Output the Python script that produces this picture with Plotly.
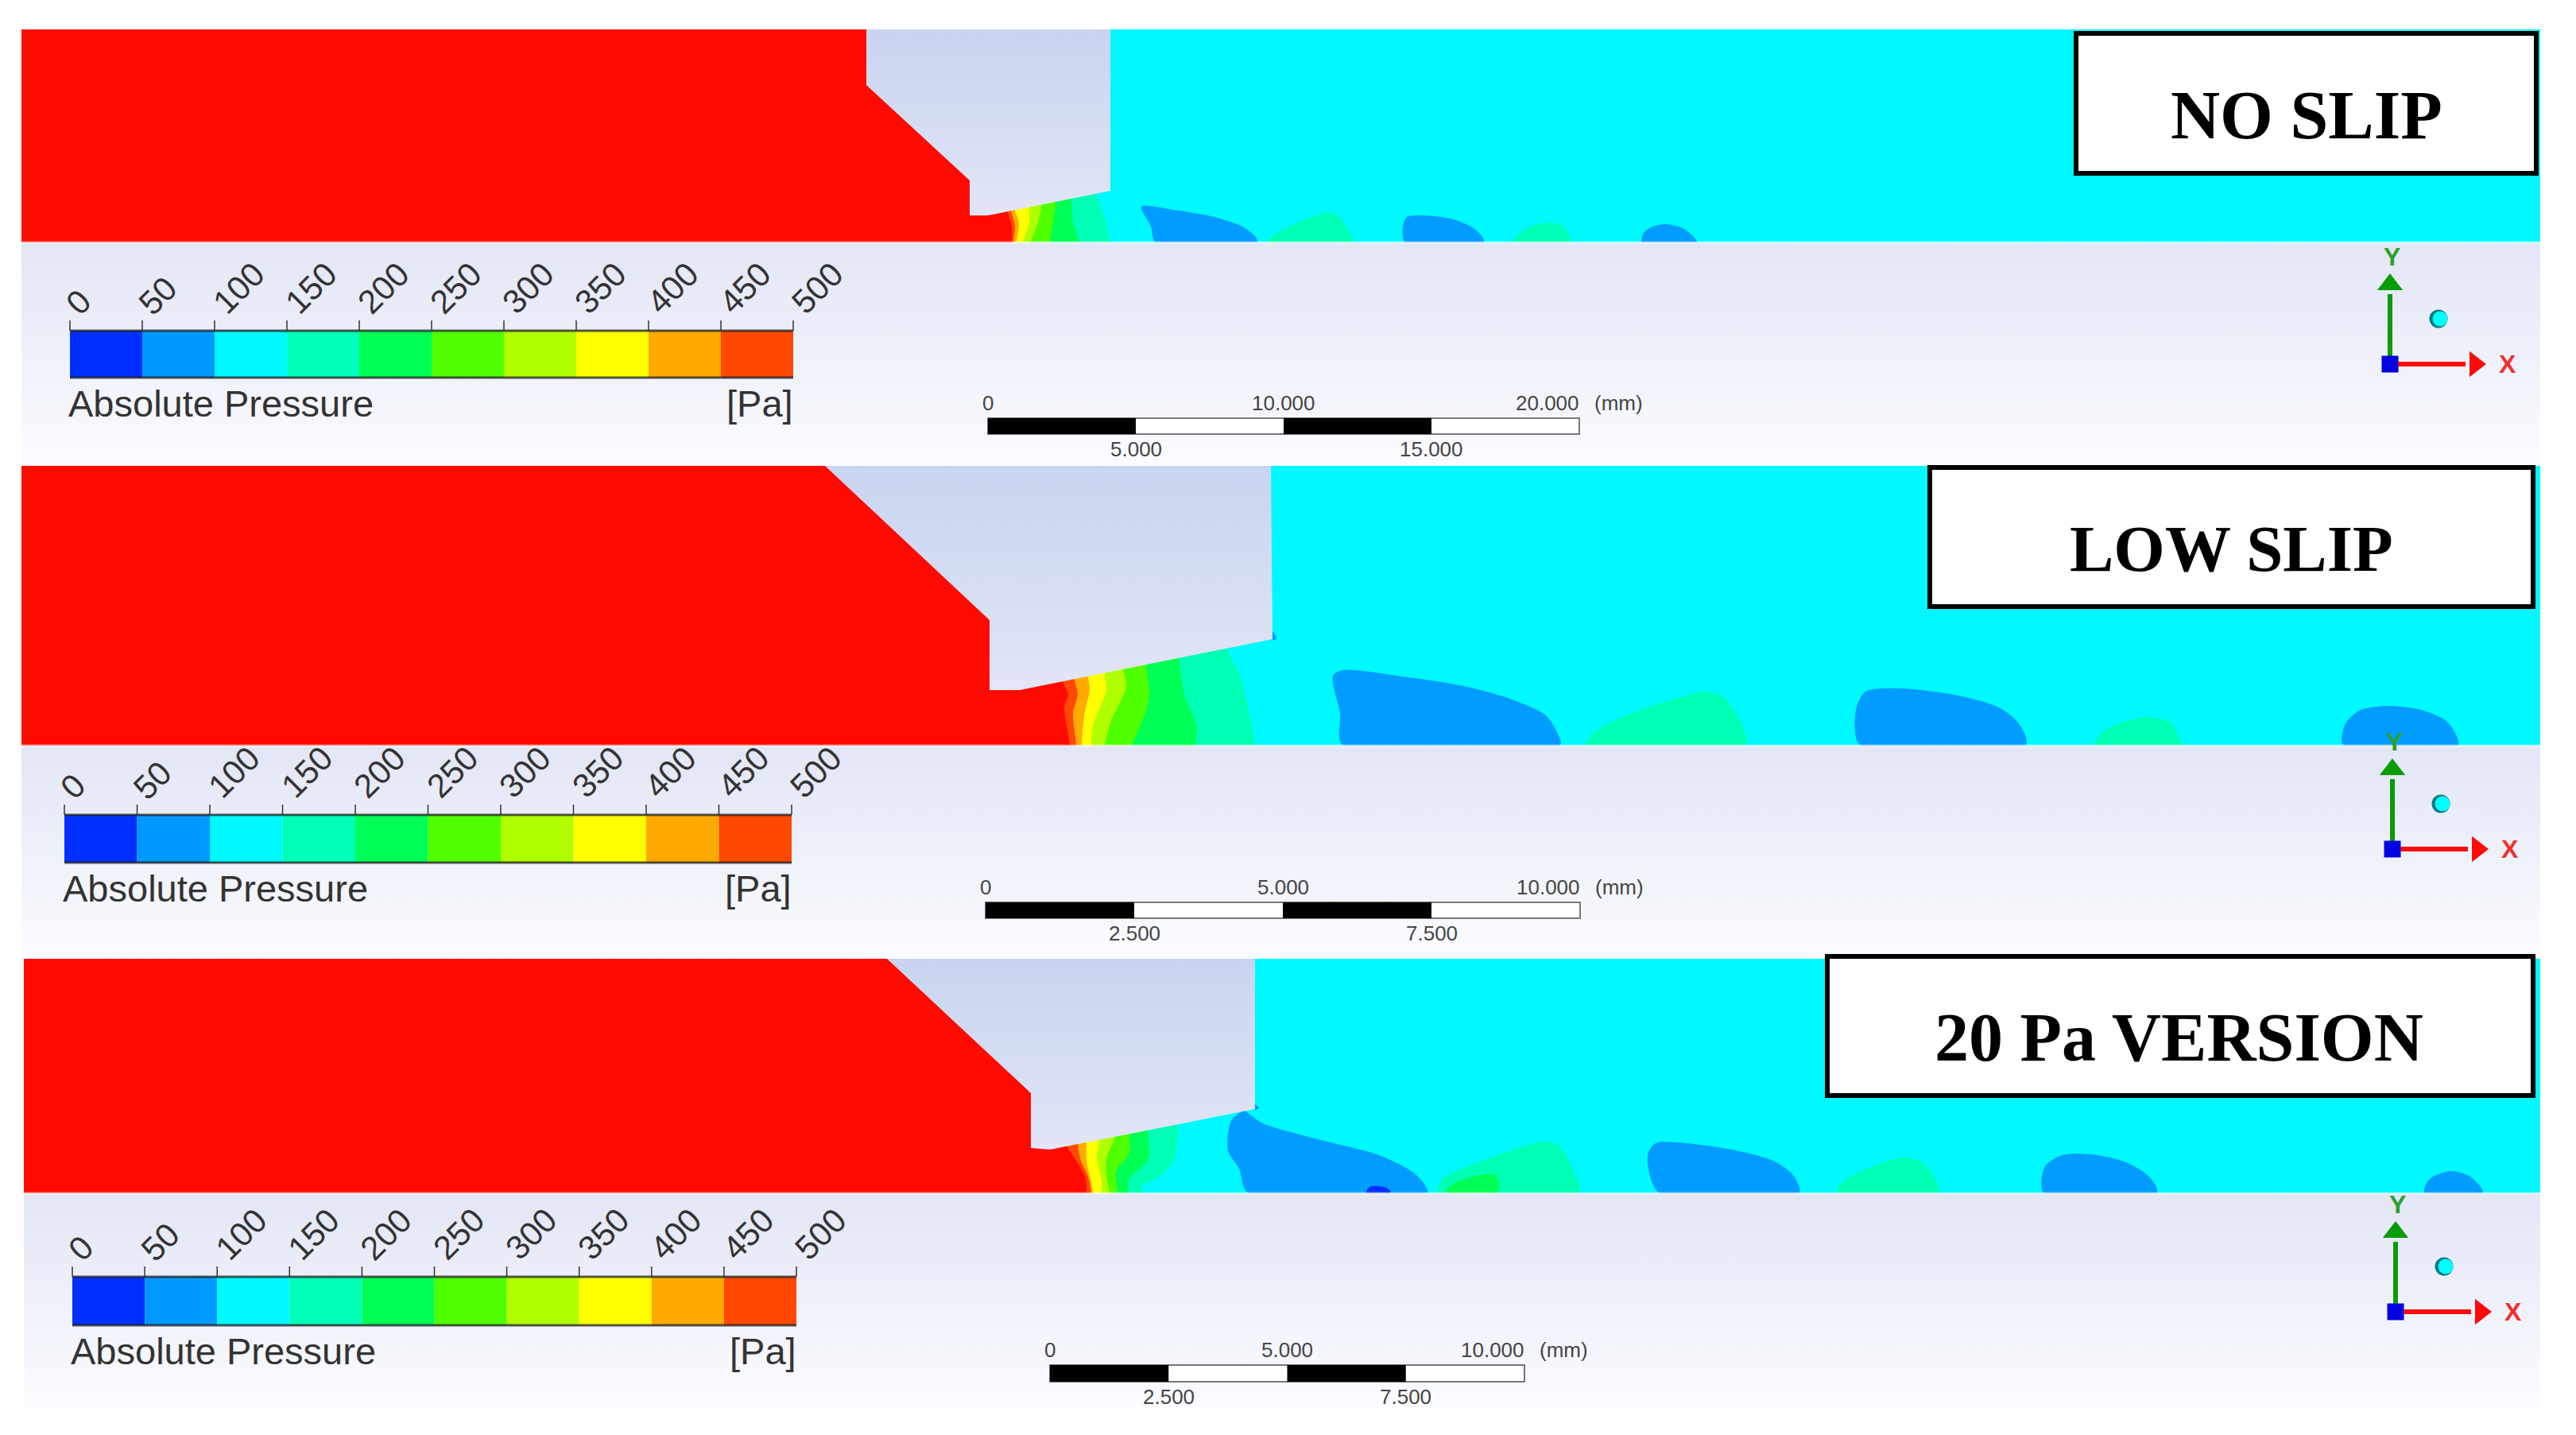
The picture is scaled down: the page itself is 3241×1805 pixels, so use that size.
# -*- coding: utf-8 -*-
"""Absolute pressure contours for the three slip cases"""
import plotly.graph_objects as go

# ── colour levels ─────────────────────────────────
LEVELS = [0, 50, 100, 150, 200, 250, 300, 350, 400, 450, 500]
LEVEL_COLORS = ['#0030ff', '#0099ff', '#00f8ff', '#00ffb8', '#00ff55',
                '#50ff00', '#b0ff00', '#ffff00', '#ffaa00', '#ff4800']
RED = '#ff0a00'
CYAN = '#00f8ff'
BLUE = '#009cff'
DEEP = '#0030ff'
TEAL = '#00ffb4'
GREEN = '#00ff55'

# ── NO SLIP ───────────────────────────────────────
P1_WEDGE = [(1090, 37), (1090, 107), (1220, 227), (1220, 271), (1243, 271), (1397, 240), (1397, 37)]
P1_B100 = [(1379, 245), (1390, 273), (1396, 305)]
P1_B150 = [(1348, 251), (1350, 280), (1358, 305)]
P1_B200 = [(1328, 254), (1325, 280), (1321, 305)]
P1_B250 = [(1310, 257), (1306, 280), (1297, 305)]
P1_B300 = [(1295, 262), (1295, 280), (1287, 305)]
P1_B350 = [(1277, 264), (1282, 280), (1279, 305)]
P1_B400 = [(1272, 264), (1277, 285), (1275, 305)]
P1_B450 = [(1268, 265), (1273, 285), (1273, 305)]
P1_BLUE_A = [(1436, 260), (1477, 264), (1528, 273), (1563, 285), (1579, 297), (1582, 305), (1454, 305), (1448, 285)]
P1_TEAL_B = [(1594, 305), (1604, 295), (1640, 277), (1675, 267), (1688, 277), (1698, 292), (1702, 305)]
P1_BLUE_C = [(1765, 285), (1770, 273), (1793, 271), (1829, 276), (1854, 287), (1865, 298), (1867, 305), (1768, 305)]
P1_TEAL_D = [(1904, 305), (1910, 295), (1931, 283), (1948, 280), (1964, 283), (1974, 295), (1977, 305)]
P1_BLUE_E = [(2066, 305), (2068, 293), (2079, 285), (2096, 282), (2117, 287), (2130, 297), (2135, 305)]

# ── LOW SLIP ──────────────────────────────────────
P2_WEDGE = [(1038, 586), (1245, 780), (1245, 868), (1283, 868), (1601, 804), (1599, 586)]
P2_B100 = [(1545, 818), (1559, 847), (1574, 907), (1579, 937)]
P2_B150 = [(1484, 829), (1490, 873), (1505, 913), (1505, 937)]
P2_B200 = [(1442, 837), (1446, 873), (1440, 900), (1425, 937)]
P2_B250 = [(1413, 843), (1417, 863), (1398, 907), (1390, 937)]
P2_B300 = [(1390, 848), (1392, 867), (1375, 913), (1373, 937)]
P2_B350 = [(1369, 851), (1371, 867), (1364, 900), (1361, 937)]
P2_B400 = [(1352, 855), (1356, 873), (1350, 897), (1354, 937)]
P2_B450 = [(1337, 857), (1344, 873), (1339, 890), (1346, 937)]
P2_BLUE_TIP = [(1600, 793), (1606, 803), (1600, 805)]
P2_BLUE_A = [(1677, 850), (1689, 843), (1765, 851), (1842, 863), (1903, 880), (1945, 900), (1960, 923), (1963, 937), (1689, 937), (1686, 897)]
P2_TEAL_B = [(1995, 937), (2010, 918), (2064, 893), (2133, 872), (2144, 870), (2169, 877), (2187, 903), (2197, 937)]
P2_BLUE_C = [(2340, 937), (2335, 893), (2347, 870), (2391, 866), (2464, 875), (2515, 890), (2540, 910), (2549, 937)]
P2_TEAL_D = [(2635, 937), (2646, 920), (2675, 907), (2704, 902), (2730, 908), (2740, 923), (2744, 937)]
P2_BLUE_E = [(2948, 937), (2951, 910), (2970, 893), (3006, 888), (3046, 893), (3079, 908), (3093, 937)]

# ── 20 Pa VERSION ─────────────────────────────────
P3_WEDGE = [(1116, 1206), (1297, 1375), (1297, 1444), (1321, 1446), (1579, 1395), (1579, 1206)]
P3_B100 = [(1482, 1416), (1478, 1457), (1463, 1477), (1436, 1493), (1438, 1500)]
P3_B150 = [(1444, 1422), (1445, 1457), (1421, 1483), (1419, 1500)]
P3_B200 = [(1421, 1427), (1421, 1450), (1404, 1473), (1406, 1500)]
P3_B250 = [(1402, 1431), (1392, 1457), (1392, 1480), (1396, 1500)]
P3_B300 = [(1383, 1433), (1380, 1457), (1386, 1487), (1386, 1500)]
P3_B350 = [(1367, 1437), (1367, 1460), (1373, 1487), (1375, 1500)]
P3_B400 = [(1356, 1438), (1360, 1460), (1369, 1480), (1373, 1500)]
P3_B450 = [(1343, 1442), (1356, 1463), (1366, 1483), (1367, 1500)]
P3_BLUE_TIP = [(1579, 1389), (1584, 1394), (1579, 1396)]
P3_BLUE_A = [(1565, 1397), (1549, 1410), (1545, 1447), (1559, 1470), (1570, 1500), (1796, 1500), (1781, 1477), (1735, 1453), (1658, 1433), (1589, 1413), (1570, 1400)]
P3_DEEP_A = [(1719, 1500), (1723, 1493), (1735, 1492), (1746, 1495), (1750, 1500)]
P3_TEAL_B = [(1810, 1500), (1815, 1483), (1865, 1460), (1941, 1436), (1960, 1440), (1980, 1473), (1987, 1500)]
P3_GREEN_B = [(1819, 1500), (1830, 1488), (1880, 1477), (1886, 1487), (1884, 1500)]
P3_BLUE_C = [(2087, 1500), (2073, 1453), (2083, 1438), (2110, 1437), (2173, 1445), (2231, 1460), (2256, 1478), (2264, 1500)]
P3_TEAL_D = [(2311, 1500), (2318, 1487), (2369, 1462), (2398, 1456), (2420, 1463), (2435, 1483), (2440, 1500)]
P3_BLUE_E = [(2571, 1500), (2573, 1467), (2595, 1453), (2631, 1452), (2675, 1462), (2704, 1480), (2714, 1500)]
P3_BLUE_F = [(3050, 1500), (3057, 1483), (3083, 1473), (3108, 1480), (3124, 1500)]

# ── scale bar labels ──────────────────────────────
SCALE_TOP_1 = ['0', '10.000', '20.000']
SCALE_BOTTOM_1 = ['5.000', '15.000']
SCALE_TOP_2 = ['0', '5.000', '10.000']
SCALE_BOTTOM_2 = ['2.500', '7.500']

fig = go.Figure()
annotations = []
shapes = []


def poly(points, color, smooth=False):
    xs = [p[0] for p in points]
    ys = [p[1] for p in points]
    line = dict(width=0, shape='spline', smoothing=0.8) if smooth else dict(width=0)
    fig.add_trace(go.Scatter(x=xs + xs[:1], y=ys + ys[:1], mode='lines', fill='toself',
                             fillcolor=color, line=line, hoverinfo='skip'))


def gradient_poly(points, top, bottom):
    xs = [p[0] for p in points]
    ys = [p[1] for p in points]
    fig.add_trace(go.Scatter(x=xs + xs[:1], y=ys + ys[:1], mode='lines', fill='toself',
                             fillgradient=dict(type='vertical', colorscale=[[0, bottom], [1, top]]),
                             line=dict(width=0), hoverinfo='skip'))


def label(x, y, text, size=44, color='#333333', angle=0, family='Liberation Sans', bold=False):
    annotations.append(dict(x=x, y=y, xref='x', yref='y', text=f'<b>{text}</b>' if bold else text,
                            showarrow=False, textangle=angle,
                            font=dict(family=family, size=size, color=color)))


def band(boundary, color, bottom):
    # a curved strip left of the boundary, inner bands and the wedge paint over its far side
    x_far = min(p[0] for p in boundary) - 150
    y_top = boundary[0][1] - 30
    poly([(x_far, y_top), (boundary[0][0], y_top)] + boundary
         + [(boundary[-1][0], bottom + 30), (x_far, bottom + 30)], color, smooth=True)


def draw_field(left, right, top, bottom, end, wedge, bounds, blobs):
    poly([(left, top), (right, top), (right, bottom), (left, bottom)], CYAN)
    for points, color in blobs:
        poly(points, color, smooth=True)
    for boundary, color in zip(bounds, [TEAL, GREEN, LEVEL_COLORS[5], LEVEL_COLORS[6], LEVEL_COLORS[7],
                                        LEVEL_COLORS[8], LEVEL_COLORS[9], RED]):
        band(boundary, color, bottom)
    red_edge = min(p[0] for p in bounds[-1]) - 1
    poly([(left, top), (red_edge, top), (red_edge, bottom), (left, bottom)], RED)
    gradient_poly(wedge, '#c8d4f0', '#e2e6f6')
    gradient_poly([(left, bottom), (right, bottom), (right, end), (left, end)], '#e2e6f5', '#fbfcff')
    shapes.append(dict(type='line', x0=left, x1=right, y0=bottom, y1=bottom, xref='x', yref='y',
                       line=dict(color='rgba(255,255,255,0.55)', width=3)))


def draw_colorbar(x0, x1, y0, y1, text_y):
    scale = (x1 - x0) / (LEVELS[-1] - LEVELS[0])
    for i, color in enumerate(LEVEL_COLORS):
        poly([(x0 + LEVELS[i] * scale, y0), (x0 + LEVELS[i + 1] * scale, y0),
              (x0 + LEVELS[i + 1] * scale, y1), (x0 + LEVELS[i] * scale, y1)], color)
    for y in (y0, y1):
        shapes.append(dict(type='line', x0=x0, x1=x1, y0=y, y1=y, xref='x', yref='y',
                           line=dict(color='rgba(30,30,30,0.75)', width=3)))
    for level in LEVELS:
        x = x0 + level * scale
        shapes.append(dict(type='line', x0=x, x1=x, y0=y0 - 13, y1=y0, xref='x', yref='y',
                           line=dict(color='#333333', width=1.5)))
        text = str(level)
        dx, dy = {1: (10, -36), 2: (19, -44), 3: (30, -54)}[len(text)]
        label(x + dx, y0 + dy, text, size=42, angle=-45)
    label(x0 + 190, text_y, 'Absolute Pressure', size=47)
    label(x1 - 42, text_y, '[Pa]', size=47)


def draw_scalebar(x0, x1, y0, y1, top_labels, bottom_labels):
    step = (x1 - x0) / 4
    shapes.append(dict(type='rect', x0=x0, x1=x1, y0=y0, y1=y1, xref='x', yref='y',
                       fillcolor='white', line=dict(color='#777777', width=2)))
    for i in (0, 2):
        shapes.append(dict(type='rect', x0=x0 + i * step, x1=x0 + (i + 1) * step, y0=y0, y1=y1,
                           xref='x', yref='y', fillcolor='black', line=dict(width=0)))
    for i, text in enumerate(top_labels):
        x = x0 + i * 2 * step
        label(x - 40 if i == 2 else x, y0 - 19, text, size=26, color='#444444')
    label(x1 + 49, y0 - 19, '(mm)', size=26, color='#444444')
    for i, text in enumerate(bottom_labels):
        label(x0 + (i * 2 + 1) * step, y1 + 19, text, size=26, color='#444444')


def draw_triad(x, y):
    fig.add_trace(go.Scatter(x=[x, x], y=[y, y - 88], mode='lines', hoverinfo='skip',
                             line=dict(color='#089c08', width=6)))
    fig.add_trace(go.Scatter(x=[x], y=[y - 100], mode='markers', hoverinfo='skip',
                             marker=dict(symbol='triangle-up', size=28, color='#089c08')))
    fig.add_trace(go.Scatter(x=[x, x + 95], y=[y, y], mode='lines', hoverinfo='skip',
                             line=dict(color='#ff0a0a', width=6)))
    fig.add_trace(go.Scatter(x=[x + 107], y=[y], mode='markers', hoverinfo='skip',
                             marker=dict(symbol='triangle-right', size=28, color='#ff0a0a')))
    fig.add_trace(go.Scatter(x=[x], y=[y], mode='markers', hoverinfo='skip',
                             marker=dict(symbol='square', size=21, color='#0000e0')))
    fig.add_trace(go.Scatter(x=[x + 61], y=[y - 57], mode='markers', hoverinfo='skip',
                             marker=dict(symbol='circle', size=23, color='#0a7a80')))
    fig.add_trace(go.Scatter(x=[x + 63], y=[y - 57], mode='markers', hoverinfo='skip',
                             marker=dict(symbol='circle', size=19, color='#00ffff')))
    label(x + 2, y - 135, 'Y', size=32, color='#2ca02c', bold=True)
    label(x + 148, y, 'X', size=32, color='#f03030', bold=True)


def draw_box(x0, x1, y0, y1, text, cx, cy, size=86):
    shapes.append(dict(type='rect', x0=x0, x1=x1, y0=y0, y1=y1, xref='x', yref='y',
                       fillcolor='white', line=dict(color='black', width=6)))
    label(cx, cy, text, size=size, color='black', family='Liberation Serif', bold=True)


draw_field(27, 3196, 37, 305, 586, P1_WEDGE,
           [P1_B100, P1_B150, P1_B200, P1_B250, P1_B300, P1_B350, P1_B400, P1_B450],
           [(P1_BLUE_A, BLUE), (P1_TEAL_B, TEAL), (P1_BLUE_C, BLUE), (P1_TEAL_D, TEAL), (P1_BLUE_E, BLUE)])
draw_field(27, 3196, 586, 938, 1206, P2_WEDGE,
           [P2_B100, P2_B150, P2_B200, P2_B250, P2_B300, P2_B350, P2_B400, P2_B450],
           [(P2_BLUE_TIP, BLUE), (P2_BLUE_A, BLUE), (P2_TEAL_B, TEAL), (P2_BLUE_C, BLUE), (P2_TEAL_D, TEAL), (P2_BLUE_E, BLUE)])
draw_field(30, 3196, 1206, 1501, 1770, P3_WEDGE,
           [P3_B100, P3_B150, P3_B200, P3_B250, P3_B300, P3_B350, P3_B400, P3_B450],
           [(P3_BLUE_TIP, BLUE), (P3_BLUE_A, BLUE), (P3_DEEP_A, DEEP), (P3_TEAL_B, TEAL), (P3_GREEN_B, GREEN),
            (P3_BLUE_C, BLUE), (P3_TEAL_D, TEAL), (P3_BLUE_E, BLUE), (P3_BLUE_F, BLUE)])

draw_colorbar(88, 998, 416, 475, 507)
draw_colorbar(81, 996, 1025, 1085, 1117)
draw_colorbar(91, 1002, 1606, 1667, 1699)

draw_scalebar(1243, 1987, 526, 546, SCALE_TOP_1, SCALE_BOTTOM_1)
draw_scalebar(1240, 1988, 1135, 1155, SCALE_TOP_2, SCALE_BOTTOM_2)
draw_scalebar(1321, 1918, 1717, 1738, SCALE_TOP_2, SCALE_BOTTOM_2)

draw_triad(3007, 458)
draw_triad(3010, 1068)
draw_triad(3014, 1650)

draw_box(2612, 3191, 42, 218, 'NO SLIP', 2902, 145)
draw_box(2428, 3187, 588, 763, 'LOW SLIP', 2807, 690, size=83)
draw_box(2299, 3187, 1203, 1378, '20 Pa VERSION', 2741, 1305)

fig.update_layout(width=3241, height=1805, margin=dict(l=0, r=0, t=0, b=0), showlegend=False,
                  plot_bgcolor='white', paper_bgcolor='white', shapes=shapes, annotations=annotations,
                  xaxis=dict(range=[0, 3241], visible=False, fixedrange=True),
                  yaxis=dict(range=[1805, 0], visible=False, fixedrange=True))

fig.write_html("out.html", config={'displayModeBar': False},
               post_script="document.body.style.margin='0';document.body.style.overflow='hidden';")
